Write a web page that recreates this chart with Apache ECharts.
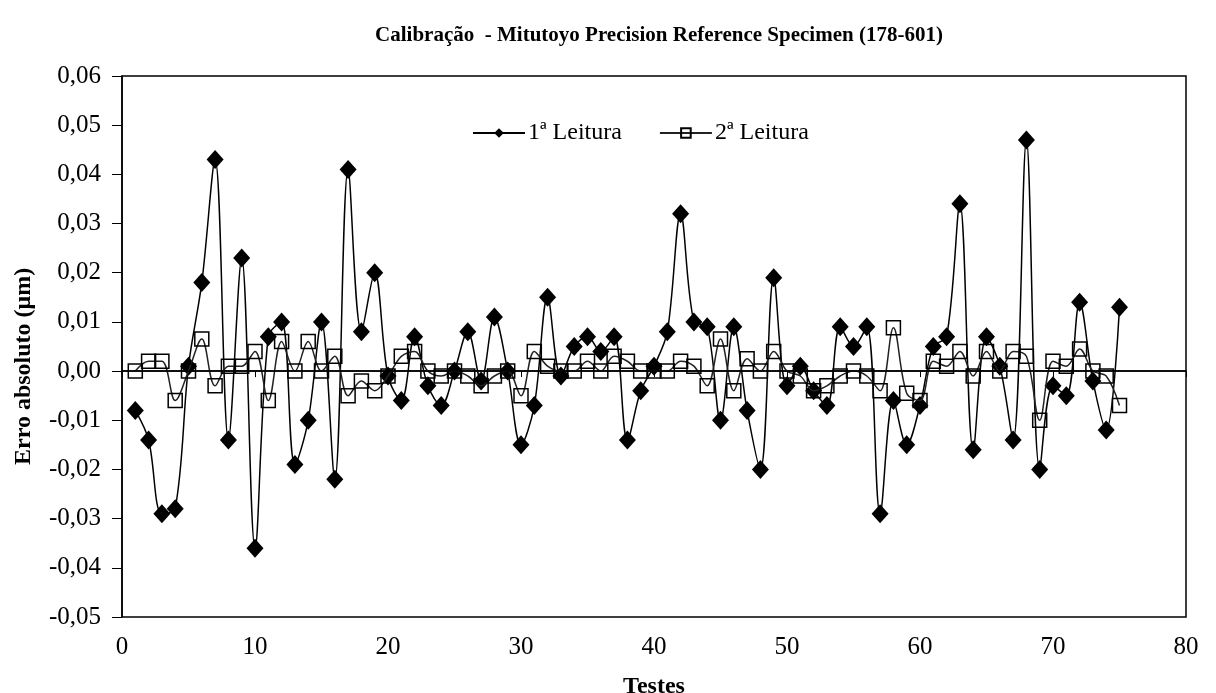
<!DOCTYPE html>
<html><head><meta charset="utf-8">
<script src="https://cdn.jsdelivr.net/npm/echarts@6/dist/echarts.min.js"></script>
<style>html,body{margin:0;padding:0;background:#fff}#c{width:1216px;height:693px}</style>
</head><body><div id="c"></div>
<script>
const tests = Array.from({length:75},(_,i)=>i+1);
const leitura1 = [-0.008,-0.014,-0.029,-0.028,0.001,0.018,0.043,-0.014,0.023,-0.036,
0.007,0.010,-0.019,-0.010,0.010,-0.022,0.041,0.008,0.020,-0.001,
-0.006,0.007,-0.003,-0.007,0.000,0.008,-0.002,0.011,0.000,-0.015,
-0.007,0.015,-0.001,0.005,0.007,0.004,0.007,-0.014,-0.004,0.001,
0.008,0.032,0.010,0.009,-0.010,0.009,-0.008,-0.020,0.019,-0.003,
0.001,-0.004,-0.007,0.009,0.005,0.009,-0.029,-0.006,-0.015,-0.007,
0.005,0.007,0.034,-0.016,0.007,0.001,-0.014,0.047,-0.020,-0.003,
-0.005,0.014,-0.002,-0.012,0.013];
const leitura2 = [0.000,0.002,0.002,-0.006,0.000,0.0065,-0.003,0.001,0.001,0.004,
-0.006,0.006,0.000,0.006,0.000,0.003,-0.005,-0.002,-0.004,-0.001,
0.003,0.004,0.000,-0.001,0.000,-0.001,-0.003,-0.001,0.000,-0.005,
0.004,0.001,0.000,0.000,0.002,0.000,0.003,0.002,0.000,0.000,
0.000,0.002,0.001,-0.003,0.0065,-0.004,0.0025,0.000,0.004,0.000,
-0.001,-0.004,-0.003,-0.001,0.000,-0.001,-0.004,0.0088,-0.0045,-0.006,
0.002,0.001,0.004,-0.001,0.004,0.000,0.004,0.003,-0.010,0.002,
0.001,0.0045,0.000,-0.001,-0.007];
const yTicks = {min:-0.05,max:0.06,interval:0.01};
const xTicks = {min:0,max:80,interval:10};
const font = 'Liberation Serif';
const chart = echarts.init(document.getElementById('c'));
chart.setOption({
  animation:false,
  title:{text:'Calibração  - Mitutoyo Precision Reference Specimen (178-601)',left:654,top:20,textAlign:'center',
    textStyle:{fontFamily:font,fontSize:21,fontWeight:'bold',color:'#000'}},
  legend:{top:116,left:467,itemGap:37,itemWidth:52,itemHeight:12,
    textStyle:{fontFamily:font,fontSize:24,color:'#000',padding:[0,0,0,-2]},
    data:[{name:'1ª Leitura'},{name:'2ª Leitura'}]},
  graphic:[{type:'text',rotation:Math.PI/2,position:[12,465],
    style:{text:'Erro absoluto (μm)',fontFamily:font,fontSize:24,fontWeight:'bold',fill:'#000'}}],
  grid:{left:122,right:30,top:76,bottom:76,outerBoundsMode:'none',containLabel:false,
    show:true,borderColor:'#000',borderWidth:1.5,backgroundColor:'#fff'},
  xAxis:{type:'value',min:xTicks.min,max:xTicks.max,interval:xTicks.interval,
    name:'Testes',nameLocation:'middle',nameGap:58,
    nameTextStyle:{fontFamily:font,fontSize:24,fontWeight:'bold',color:'#000'},
    axisLine:{lineStyle:{color:'#000',width:1.5}},axisTick:{show:true,length:6,lineStyle:{color:'#000'}},
    axisLabel:{fontFamily:font,fontSize:25,color:'#000',margin:18},splitLine:{show:false}},
  yAxis:{type:'value',min:yTicks.min,max:yTicks.max,interval:yTicks.interval,
    axisLine:{show:true,lineStyle:{color:'#000',width:1.5}},axisTick:{show:true,length:10,lineStyle:{color:'#000'}},
    axisLabel:{fontFamily:font,fontSize:25,color:'#000',margin:21,
      formatter:v=>(Math.round(v*100)/100).toFixed(2).replace('.',',')},
    splitLine:{show:false}},
  series:[
    {name:'1ª Leitura',type:'line',smooth:0.35,data:tests.map((t,i)=>[t,leitura1[i]]),
      symbol:'diamond',symbolSize:[17,19],itemStyle:{color:'#000'},lineStyle:{color:'#000',width:1.5},z:3,
      markLine:{silent:true,symbol:'none',label:{show:false},lineStyle:{color:'#000',width:1.5,type:'solid'},data:[{yAxis:0}]}},
    {name:'2ª Leitura',type:'line',smooth:0.35,data:tests.map((t,i)=>[t,leitura2[i]]),
      symbol:'rect',symbolSize:14,itemStyle:{color:'rgba(255,255,255,0)',borderColor:'#000',borderWidth:1.5},
      lineStyle:{color:'#222',width:1.5},z:4}
  ]
});
</script></body></html>
